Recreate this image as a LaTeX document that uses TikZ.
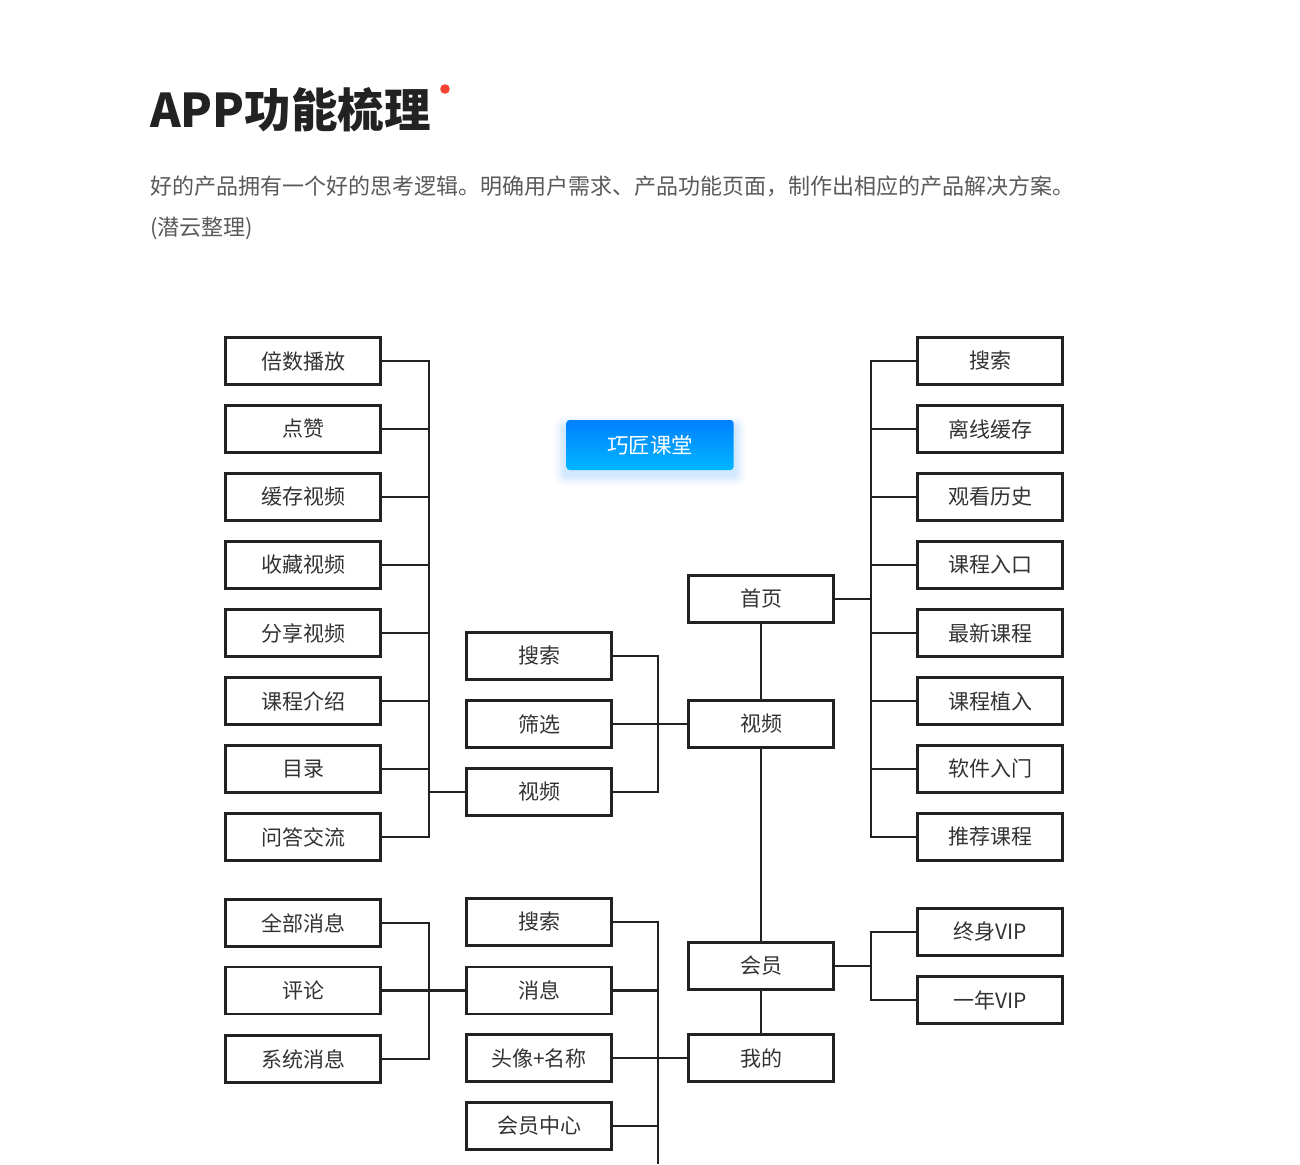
\documentclass[tikz,border=0pt]{standalone}
\usepackage{fontspec}
\setmainfont{Noto Sans CJK SC}
\definecolor{ink}{HTML}{222222}
\definecolor{labelgray}{HTML}{333333}
\definecolor{subgray}{HTML}{5A5A5A}
\definecolor{dotred}{HTML}{F5412F}
\definecolor{btntop}{HTML}{0080FF}
\definecolor{btnbot}{HTML}{00B6FF}
\tikzset{
  box/.style={draw=ink, line width=2.3pt, minimum width=145pt, minimum height=47pt,
    inner sep=0pt, text=labelgray, font=\fontsize{21}{25}\selectfont},
  wbox/.style={box, minimum width=155pt},
  btn/.style={rounded corners=3pt, minimum width=167pt, minimum height=50pt,
    top color=btntop, bottom color=btnbot, text=white, font=\fontsize{21.5}{25}\selectfont},
  wire/.style={draw=ink, line width=2.6pt},
}
\begin{document}
\begin{tikzpicture}[x=1pt,y=-1pt]
  \useasboundingbox (0,0) rectangle (1300,1164);
  \fill[white] (0,0) rectangle (1300,1164);
  % heading
  \node[anchor=base west, inner sep=0pt, text=ink, font=\fontsize{46.5}{50}\selectfont\bfseries] (title) at (150,127) {APP功能梳理};
  \fill[dotred] (445,89) circle (4.8pt);
  \node[anchor=base west, inner sep=0pt, text=subgray, font=\fontsize{22}{26}\selectfont] (intro) at (150,194)
    {好的产品拥有一个好的思考逻辑。明确用户需求、产品功能页面，制作出相应的产品解决方案。};
  \node[anchor=base west, inner sep=0pt, text=subgray, font=\fontsize{22}{26}\selectfont] (src) at (150,235) {(潜云整理)};
  % button glow
  \foreach \g/\o in {12/0.03, 9/0.04, 6/0.05, 3/0.06}
    \fill[btntop, opacity=\o, rounded corners=\g pt] (566-\g,428-\g) rectangle (734+\g,474+\g);
  \node[btn] (brand) at (650,445) {巧匠课堂};
  % boxes
  \draw
    (303,361) node[wbox] (l1){倍数播放}
    (303,429) node[wbox] (l2){点赞}
    (303,497) node[wbox] (l3){缓存视频}
    (303,565) node[wbox] (l4){收藏视频}
    (303,633) node[wbox] (l5){分享视频}
    (303,701) node[wbox] (l6){课程介绍}
    (303,769) node[wbox] (l7){目录}
    (303,837) node[wbox] (l8){问答交流}
    (303,923) node[wbox] (n1){全部消息}
    (303,990.5) node[wbox] (n2){评论}
    (303,1059) node[wbox] (n3){系统消息};
  \draw
    (539,656) node[box] (m1){搜索}
    (539,724) node[box] (m2){筛选}
    (539,792) node[box] (m3){视频}
    (539,922) node[box] (s1){搜索}
    (539,990.5) node[box] (s2){消息}
    (539,1058) node[box] (s3){头像+名称}
    (539,1126) node[box] (s4){会员中心};
  \draw
    (761,599) node[box] (c1){首页}
    (761,724) node[box] (c2){视频}
    (761,966) node[box] (c3){会员}
    (761,1058) node[box] (c4){我的};
  \draw
    (990,361) node[box] (r1){搜索}
    (990,429) node[box] (r2){离线缓存}
    (990,497) node[box] (r3){观看历史}
    (990,565) node[box] (r4){课程入口}
    (990,633) node[box] (r5){最新课程}
    (990,701) node[box] (r6){课程植入}
    (990,769) node[box] (r7){软件入门}
    (990,837) node[box] (r8){推荐课程}
    (990,932) node[box] (v1){终身VIP}
    (990,1000) node[box] (v2){一年VIP};
  \coordinate (lb) at (429,0);
  \coordinate (mb) at (658,0);
  \coordinate (rb) at (871,0);
  \coordinate (end) at (658,1164);
  \begin{scope}[wire]
    % left tree
    \draw (l1.east) -| (l8.east -| lb) -- (l8.east);
    \foreach \i in {2,...,7}
      \draw (l\i.east) -- (l\i.east -| lb);
    \draw (m3.west -| lb) to (m3.west);
    \draw (m1.east) -| (m3.east -| mb) -- (m3.east);
    \draw (m2) to (c2);
    % trunk
    \draw (c1) to (c2);
    \draw (c2) to (c3);
    \draw (c3) to (c4);
    % right tree
    \draw (r1.west) -| (r8.west -| rb) -- (r8.west);
    \foreach \i in {2,...,7}
      \draw (r\i.west) -- (r\i.west -| rb);
    \draw (c1) to (c1.east -| rb);
    \draw (v1.west) -| (v2.west -| rb) -- (v2.west);
    \draw (c3) to (c3.east -| rb);
    % lower tree
    \draw (n1.east) -| (n3.east -| lb) -- (n3.east);
    \draw (n2) to (s2);
    \draw (s1.east) -| (end);
    \draw (s2.east) -- (s2.east -| mb);
    \draw (s4.east) -- (s4.east -| mb);
    \draw (s3) to (c4);
  \end{scope}
\end{tikzpicture}
\end{document}
